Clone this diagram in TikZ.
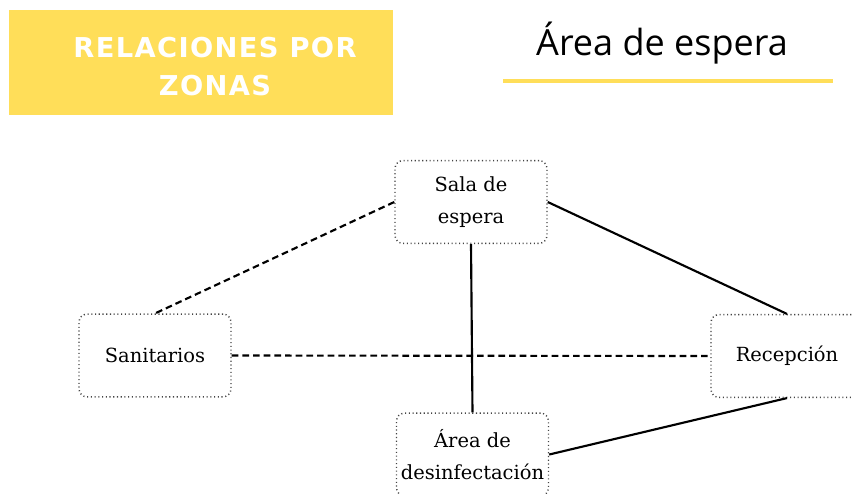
\documentclass[tikz,border=0pt]{standalone}
\usepackage{fontspec}
\setmainfont{DejaVu Serif}
\newfontfamily\titlefont[LetterSpace=5]{DejaVu Sans}
\newfontfamily\headfont{Open Sans}
\definecolor{ylw}{HTML}{FFDE59}
\definecolor{dotc}{HTML}{444444}
\begin{document}
\begin{tikzpicture}[x=0.75pt,y=-0.75pt,
  zonebox/.style={draw=dotc, line width=1.1pt, dash pattern=on 0.8pt off 2pt, rounded corners=6pt,
    minimum width=114pt, minimum height=62pt, inner sep=0pt, align=center,
    font=\fontsize{14.6}{24}\selectfont, text=black},
  solidlink/.style={line width=1.6pt, black},
  dashlink/.style={line width=1.6pt, black, dash pattern=on 5pt off 3pt}]
\useasboundingbox (0,0) rectangle (853,493);
\fill[ylw] (9,10) rectangle (393,115);
\node[text=white, font=\titlefont\bfseries\fontsize{20.5}{28.5}\selectfont, align=center] (title) at (215,67) {RELACIONES POR\\ZONAS};
\node[font=\headfont\fontsize{27}{30}\selectfont, anchor=base] (head) at (662,55) {Área de espera};
\draw[ylw, line width=3pt] (503,81) coordinate (ul1) -- (833,81) coordinate (ul2);
\node[zonebox] (sala) at (471,202) {Sala de\\espera};
\node[zonebox] (sani) at (155,355.5) {Sanitarios};
\node[zonebox] (rece) at (787,356) {Recepción};
\node[zonebox] (area) at (472.5,454.5) {Área de\\desinfectación};
\draw[dashlink] (sala.west) -- (sani.north);
\draw[dashlink] (sani.east) -- (rece.west);
\draw[solidlink] (sala.east) -- (rece.north);
\draw[solidlink] (sala.south) -- (area.north);
\draw[solidlink] (rece.south) -- (area.east);
\end{tikzpicture}
\end{document}
